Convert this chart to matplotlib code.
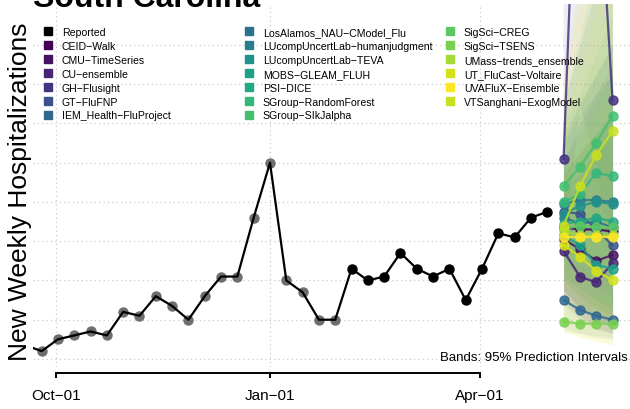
import matplotlib
matplotlib.use('Agg')
import matplotlib.pyplot as plt
import matplotlib.dates as mdates
from matplotlib.patches import Patch
import pandas as pd

plt.rcParams['font.family'] = ['Liberation Sans', 'DejaVu Sans']

# reported weekly hospitalizations (first 20 points are older data, drawn grey)
reported_dates = pd.date_range('2021-09-18', periods=33, freq='7D')
reported = [27, 24, 30, 32, 34, 32, 44, 42, 52, 47, 40, 52, 62, 62, 92, 120, 60, 54,
            40, 40, 66, 60, 62, 74, 66, 62, 66, 50, 66, 84, 82, 92, 95]
n_old = 20

forecast_dates = pd.date_range('2022-05-07', periods=4, freq='7D')

models = ['CEID\u2212Walk', 'CMU\u2212TimeSeries', 'CU\u2212ensemble', 'GH\u2212Flusight',
          'GT\u2212FluFNP', 'IEM_Health\u2212FluProject', 'LosAlamos_NAU\u2212CModel_Flu',
          'LUcompUncertLab\u2212humanjudgment', 'LUcompUncertLab\u2212TEVA',
          'MOBS\u2212GLEAM_FLUH', 'PSI\u2212DICE', 'SGroup\u2212RandomForest',
          'SGroup\u2212SIkJalpha', 'SigSci\u2212CREG', 'SigSci\u2212TSENS',
          'UMass\u2212trends_ensemble', 'UT_FluCast\u2212Voltaire', 'UVAFluX\u2212Ensemble',
          'VTSanghani\u2212ExogModel']
colors = ['#440154', '#471164', '#482475', '#45337F', '#3B528B', '#30698E', '#2C718E',
          '#297B8E', '#21918C', '#1FA088', '#22A884', '#35B779', '#44BF70', '#5DC863',
          '#7AD151', '#A5DB36', '#D5E21A', '#FDE725', '#C8E020']

median = [[87, 86, 86, 85], [81, 76, 70, 73], [75, 62, 59, 69], [122, 340, 290, 152],
          [95, 94, 86, 78], [50, 45, 42, 40], [92, 89, 90, 87], [99, 101, 101, 100],
          [94, 98, 100, 99], [83, 78, 68, 66], [89, 90, 92, 90], [100, 104, 115, 113],
          [108, 118, 130, 144], [86, 88, 87, 87], [39, 38, 38, 38], [85, 83, 83, 83],
          [78, 72, 65, 60], [82, 82, 82, 82], [88, 108, 124, 136]]
lower = [[55, 45, 40, 36], [50, 42, 36, 33], [48, 40, 35, 33], [70, 150, 120, 60],
         [60, 52, 46, 42], [36, 33, 31, 30], [55, 47, 42, 38], [70, 62, 56, 52],
         [62, 56, 50, 46], [55, 46, 40, 35], [62, 56, 50, 46], [70, 66, 62, 58],
         [75, 72, 70, 68], [60, 52, 46, 42], [34, 33, 32, 31], [58, 50, 44, 40],
         [34, 31, 29, 27], [35, 31, 29, 27], [50, 46, 42, 40]]
upper = [[120, 140, 155, 170], [115, 125, 135, 145], [105, 115, 125, 135], [210, 500, 450, 300],
         [135, 150, 165, 180], [68, 68, 65, 65], [150, 180, 210, 240], [130, 145, 155, 165],
         [130, 150, 165, 180], [115, 125, 135, 145], [120, 135, 150, 165], [140, 155, 175, 195],
         [150, 185, 220, 260], [115, 125, 135, 145], [48, 50, 52, 55], [115, 130, 145, 160],
         [140, 170, 200, 230], [160, 200, 240, 280], [170, 210, 250, 290]]

tick_dates = pd.to_datetime(['2021-10-01', '2022-01-01', '2022-04-01'])
tick_labels = ['Oct\u221201', 'Jan\u221201', 'Apr\u221201']
grid_values = [20, 40, 60, 80, 100, 120, 140, 160, 180]

fig = plt.figure(figsize=(6.3, 4.1), dpi=100)
ax = fig.add_axes([33 / 630, 1 - 368 / 410, 597 / 630, 363 / 410])

jan1 = pd.Timestamp('2022-01-01')
ax.set_xlim(jan1 - pd.Timedelta(days=101.7), jan1 + pd.Timedelta(days=154.5))
ax.set_ylim(15.9, 200.9)

# dotted grid
for g in grid_values:
    ax.axhline(g, color='#CCCCCC', lw=0.9, ls=(0, (1, 2.5)), zorder=0)
for d in tick_dates:
    ax.axvline(d, color='#CCCCCC', lw=0.9, ls=(0, (1, 2.5)), zorder=0)

# prediction bands and forecast medians
for i in range(len(models)):
    ax.fill_between(forecast_dates, lower[i], upper[i], color=colors[i], alpha=0.085, lw=0, zorder=2)
for i in range(len(models)):
    ax.plot(forecast_dates, median[i], '-o', color=colors[i], lw=1.6, ms=6.5, alpha=0.85, zorder=4)

# reported data
ax.plot(reported_dates[:n_old], reported[:n_old], 'o', color='#6E6E6E', ms=6.5, zorder=5)
ax.plot(reported_dates, reported, '-', color='black', lw=1.6, zorder=6)
ax.plot(reported_dates[n_old:], reported[n_old:], 'o', color='black', ms=6.5, zorder=7)

for s in ['left', 'top', 'right']:
    ax.spines[s].set_visible(False)
ax.spines['bottom'].set_position(('outward', 4.5))
ax.spines['bottom'].set_bounds(mdates.date2num(tick_dates[0]), mdates.date2num(tick_dates[-1]))
ax.spines['bottom'].set_linewidth(1.4)
ax.set_xticks(tick_dates)
ax.set_xticklabels(tick_labels, fontsize=11)
ax.tick_params(axis='x', length=3.5, width=1.4, pad=7)
ax.set_yticks([])

ax.text(0.9966, 0.028, 'Bands: 95% Prediction Intervals', transform=ax.transAxes,
        ha='right', va='center', fontsize=9.5, zorder=8)

# legend in three columns
handles = [Patch(color='black', label='Reported')] + \
          [Patch(color=c, label=m) for c, m in zip(colors, models)]
columns = [handles[0:7], handles[7:14], handles[14:]]
col_x = [44, 245, 446]
for hs, x in zip(columns, col_x):
    fig.legend(handles=hs, loc='upper left', bbox_to_anchor=(x / 630, 1 - 28 / 410),
               frameon=False, fontsize=7.6,
               handlelength=0.8, handleheight=0.8, handletextpad=0.9,
               labelspacing=0.37, borderpad=0, borderaxespad=0)

fig.text(20 / 630, 1 - 192 / 410, 'New Weekly Hospitalizations', rotation=90,
         ha='center', va='center', fontsize=19)
fig.text(33 / 630, 1 - 7 / 410, 'South Carolina', fontsize=23, fontweight='bold',
         ha='left', va='baseline')

fig.savefig('out.png', dpi=100)
